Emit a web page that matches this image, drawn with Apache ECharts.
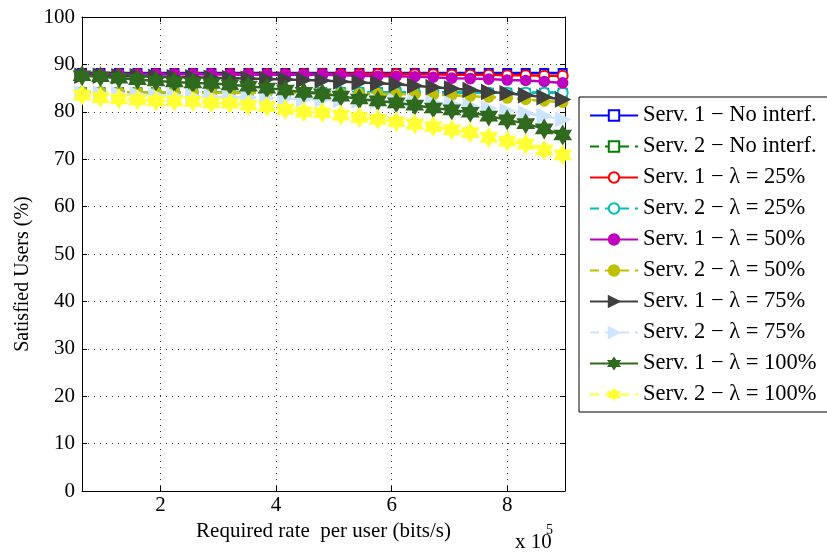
<!DOCTYPE html>
<html><head><meta charset="utf-8">
<script src="https://cdn.jsdelivr.net/npm/echarts@6/dist/echarts.min.js"></script>
<style>html,body{margin:0;padding:0;background:#fff}#c{width:827px;height:552px}</style>
</head><body><div id="c"></div>
<script>
// Required rate per user, in units of 1e5 bits/s
const xValues = [0.64,0.96,1.28,1.60,1.92,2.24,2.56,2.88,3.20,3.52,3.84,4.16,4.48,4.80,5.12,5.44,5.76,6.08,6.40,6.72,7.04,7.36,7.68,8.00,8.32,8.64,8.96];
const xTicks = [2,4,6,8];
const yTicks = [0,10,20,30,40,50,60,70,80,90,100];

const seriesNames = [
  'Serv. 1 \u2212 No interf.',
  'Serv. 2 \u2212 No interf.',
  'Serv. 1 \u2212 \u03bb = 25%',
  'Serv. 2 \u2212 \u03bb = 25%',
  'Serv. 1 \u2212 \u03bb = 50%',
  'Serv. 2 \u2212 \u03bb = 50%',
  'Serv. 1 \u2212 \u03bb = 75%',
  'Serv. 2 \u2212 \u03bb = 75%',
  'Serv. 1 \u2212 \u03bb = 100%',
  'Serv. 2 \u2212 \u03bb = 100%'
];

const s1NoInterf = [88.2,88.2,88.2,88.2,88.2,88.2,88.2,88.2,88.2,88.2,88.2,88.2,88.2,88.2,88.2,88.2,88.2,88.2,88.2,88.2,88.2,88.2,88.2,88.2,88.2,88.2,88.2];
const s2NoInterf = [84.1,84.1,84.1,84.1,84.1,84.1,84.1,84.1,84.1,84.1,84.1,84.1,84.1,84.1,84.1,84.1,84.1,84.1,84.1,84.1,84.1,84.0,84.0,84.0,84.0,84.0,84.0];
const s1Lambda25 = [88.0,88.0,88.0,88.0,88.0,88.0,88.0,88.0,88.0,88.0,88.0,88.0,88.0,88.0,88.0,88.0,88.0,88.0,87.9,87.9,87.8,87.8,87.8,87.7,87.7,87.6,87.6];
const s2Lambda25 = [84.1,84.1,84.1,84.1,84.1,84.1,84.1,84.1,84.1,84.1,84.1,84.1,84.1,84.1,84.1,84.1,84.1,84.1,84.1,84.1,84.0,84.0,84.0,84.0,84.0,84.0,84.0];
const s1Lambda50 = [87.9,87.9,87.9,87.9,87.9,87.9,87.9,87.9,87.8,87.8,87.8,87.8,87.8,87.8,87.7,87.6,87.5,87.5,87.4,87.3,87.1,87.0,86.9,86.7,86.6,86.4,86.1];
const s2Lambda50 = [84.1,84.1,84.1,84.1,84.1,84.1,84.0,84.0,84.0,84.0,84.0,84.0,84.0,83.9,83.9,83.8,83.8,83.7,83.7,83.6,83.5,83.3,83.1,82.9,82.6,82.3,82.0];
const s1Lambda75 = [87.6,87.6,87.5,87.5,87.4,87.3,87.3,87.2,87.1,87.0,86.9,86.8,86.7,86.6,86.4,86.2,86.0,85.8,85.5,85.2,84.9,84.6,84.2,83.9,83.5,83.1,82.6];
const s2Lambda75 = [83.9,83.8,83.7,83.6,83.5,83.4,83.3,83.2,83.1,83.0,82.9,82.8,82.7,82.6,82.5,82.4,82.3,82.2,82.1,81.9,81.7,81.2,80.7,80.2,79.7,79.1,78.4];
const s1Lambda100 = [87.6,87.4,87.1,86.8,86.5,86.3,86.1,86.0,85.7,85.4,85.0,84.6,84.1,83.8,83.3,82.7,82.3,81.9,81.4,80.8,80.4,79.9,79.1,78.3,77.5,76.4,75.1];
const s2Lambda100 = [83.5,83.0,82.7,82.5,82.3,82.3,82.2,81.9,81.8,81.4,81.1,80.5,80.0,79.8,79.3,78.8,78.4,77.9,77.4,76.9,76.2,75.6,74.6,73.8,73.2,71.9,70.9];

const seriesValues = [s1NoInterf,s2NoInterf,s1Lambda25,s2Lambda25,s1Lambda50,s2Lambda50,s1Lambda75,s2Lambda75,s1Lambda100,s2Lambda100];

const HEX = 'path://M5,0 L6.443,2.5 L9.33,2.5 L7.887,5 L9.33,7.5 L6.443,7.5 L5,10 L3.557,7.5 L0.67,7.5 L2.113,5 L0.67,2.5 L3.557,2.5 Z';
const TRI = 'path://M0,0 L10,5 L0,10 Z';
const looks = [
  {c:'#0000ff', dash:false, sym:'emptyRect', size:8},
  {c:'#008000', dash:true,  sym:'emptyRect', size:8},
  {c:'#ff0000', dash:false, sym:'emptyCircle', size:10},
  {c:'#00bfbf', dash:true,  sym:'emptyCircle', size:10},
  {c:'#bf00bf', dash:false, sym:'circle', size:10},
  {c:'#bfbf00', dash:true,  sym:'circle', size:10},
  {c:'#404040', dash:false, sym:TRI, size:[14,14]},
  {c:'#cce4ff', dash:true,  sym:TRI, size:[14,14]},
  {c:'#2f6a1f', dash:false, sym:HEX, size:[16,18]},
  {c:'#ffff33', dash:true,  sym:HEX, size:[16,18]}
];

const FONT = '"Liberation Serif", "Times New Roman", serif';

const series = seriesNames.map((name, i) => ({
  name: name,
  type: 'line',
  data: xValues.map((x, j) => [x, seriesValues[i][j]]),
  symbol: looks[i].sym,
  symbolSize: looks[i].size,
  showSymbol: true,
  showAllSymbol: true,
  lineStyle: {color: looks[i].c, width: 2.5, type: looks[i].dash ? [9, 6] : 'solid'},
  itemStyle: {color: looks[i].c, borderColor: looks[i].c, borderWidth: 1.6},
  emphasis: {disabled: true},
  silent: true,
  animation: false,
  z: 3 + i
}));

const grid = {left: 82, right: 262, top: 17, bottom: 61, show: false};

const chart = echarts.init(document.getElementById('c'), null, {renderer: 'canvas'});
chart.setOption({
  animation: false,
  backgroundColor: '#ffffff',
  grid: grid,
  xAxis: [{
    type: 'value', min: 0.64, max: 9, position: 'bottom',
    name: 'Required rate  per user (bits/s)', nameLocation: 'middle', nameGap: 19,
    nameTextStyle: {fontFamily: FONT, fontSize: 21, color: '#000'},
    axisLine: {show: true, onZero: false, lineStyle: {color: '#000', width: 1}},
    axisTick: {show: true, inside: true, length: 5, customValues: xTicks, lineStyle: {color: '#000'}},
    axisLabel: {show: true, customValues: xTicks, margin: 4, fontFamily: FONT, fontSize: 21, color: '#000',
      showMinLabel: true, showMaxLabel: true},
    splitLine: {show: true, lineStyle: {color: '#333', width: 1, type: [1, 5]}}
  }, {
    type: 'value', min: 0.64, max: 9, position: 'top',
    axisLine: {show: true, onZero: false, lineStyle: {color: '#000', width: 1}},
    axisTick: {show: true, inside: true, length: 5, customValues: xTicks, lineStyle: {color: '#000'}},
    axisLabel: {show: false},
    splitLine: {show: false}
  }],
  yAxis: [{
    type: 'value', min: 0, max: 100, interval: 10, position: 'left',
    name: 'Satisfied Users (%)', nameLocation: 'middle', nameGap: 46,
    nameTextStyle: {fontFamily: FONT, fontSize: 20, color: '#000', padding: [0, 40, 0, 0]},
    axisLine: {show: true, onZero: false, lineStyle: {color: '#000', width: 1}},
    axisTick: {show: true, inside: true, length: 5, lineStyle: {color: '#000'}},
    axisLabel: {show: true, margin: 7, fontFamily: FONT, fontSize: 21, color: '#000',
      formatter: v => yTicks.indexOf(v) >= 0 ? String(v) : ''},
    splitLine: {show: true, lineStyle: {color: '#333', width: 1, type: [1, 5]}}
  }, {
    type: 'value', min: 0, max: 100, interval: 10, position: 'right',
    axisLine: {show: true, onZero: false, lineStyle: {color: '#000', width: 1}},
    axisTick: {show: true, inside: true, length: 5, lineStyle: {color: '#000'}},
    axisLabel: {show: false},
    splitLine: {show: false}
  }],
  legend: {
    orient: 'vertical', left: 579, top: 97,
    padding: [7, 40, 6, 10], itemGap: 8, itemWidth: 48, itemHeight: 13,
    borderColor: '#000', borderWidth: 1, backgroundColor: '#fff',
    textStyle: {fontFamily: FONT, fontSize: 22.5, color: '#000'},
    selectedMode: false,
    data: seriesNames
  },
  graphic: [
    {type: 'text', left: 515, top: 532, silent: true,
      style: {text: 'x 10', font: '21px ' + FONT, fill: '#000'}},
    {type: 'text', left: 546, top: 523, silent: true,
      style: {text: '5', font: '14px ' + FONT, fill: '#000'}}
  ],
  series: series
});
</script>
</body></html>
